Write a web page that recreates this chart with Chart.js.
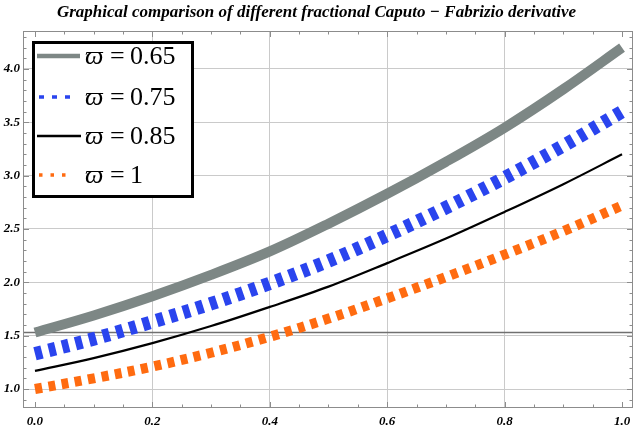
<!DOCTYPE html>
<html>
<head>
<meta charset="utf-8">
<script src="https://cdn.jsdelivr.net/npm/chart.js@4.4.0/dist/chart.umd.min.js"></script>
<style>
  html, body { margin: 0; padding: 0; background: #fff; }
</style>
</head>
<body>
<canvas id="chart" width="640" height="433"></canvas>
<script>
// values
const xValues = [0, 0.1, 0.2, 0.3, 0.4, 0.5, 0.6, 0.7, 0.8, 0.9, 1.0];
const omega065 = [1.53, 1.69, 1.87, 2.07, 2.29, 2.55, 2.83, 3.13, 3.45, 3.81, 4.20];
const omega075 = [1.33, 1.47, 1.63, 1.80, 1.99, 2.20, 2.44, 2.70, 2.98, 3.28, 3.60];
const omega085 = [1.17, 1.29, 1.43, 1.59, 1.77, 1.96, 2.18, 2.41, 2.66, 2.92, 3.20];
const omega100 = [1.00, 1.10, 1.21, 1.34, 1.49, 1.66, 1.85, 2.05, 2.26, 2.48, 2.72];

const xTicks = [0, 0.2, 0.4, 0.6, 0.8, 1.0];
const yTicks = [1.0, 1.5, 2.0, 2.5, 3.0, 3.5, 4.0];
const axisCrossY = 1.537;

const legendSymbol = 'ϖ';
const legendValues = ['0.65', '0.75', '0.85', '1'];
const chartTitle = 'Graphical comparison of different fractional Caputo − Fabrizio derivative';

const GRAY = 'rgb(125,135,133)';
const BLUE = 'rgb(42,68,238)';
const BLACK = '#000';
const ORANGE = 'rgb(255,107,16)';

const SERIF = "'Liberation Serif', 'DejaVu Serif', serif";
const tickFont = { family: SERIF, size: 13, style: 'italic', weight: 'bold' };

function toPoints(ys) {
    return xValues.map((x, i) => ({ x: x, y: ys[i] }));
}

// frame with inward ticks and the horizontal axis line
const framePlugin = {
    id: 'frame',
    beforeDatasetsDraw(chart) {
        const { ctx, chartArea: a, scales: { x, y } } = chart;
        ctx.save();

        const ay = Math.round(y.getPixelForValue(axisCrossY)) + 0.5;
        ctx.strokeStyle = '#707070';
        ctx.lineWidth = 1.3;
        ctx.beginPath();
        ctx.moveTo(a.left, ay);
        ctx.lineTo(a.right, ay);
        ctx.stroke();

        ctx.strokeStyle = '#8c8c8c';
        ctx.lineWidth = 1;
        ctx.strokeRect(a.left + 0.5, a.top + 0.5, a.width - 1, a.height - 1);

        ctx.beginPath();
        for (let i = 0; i <= 20; i++) {
            const px = Math.round(x.getPixelForValue(i * 0.05)) + 0.5;
            const len = i % 4 === 0 ? 6 : 3.5;
            ctx.moveTo(px, a.bottom); ctx.lineTo(px, a.bottom - len);
            ctx.moveTo(px, a.top); ctx.lineTo(px, a.top + len);
        }
        for (let i = 9; i <= 43; i++) {
            const py = Math.round(y.getPixelForValue(i / 10)) + 0.5;
            const len = i % 5 === 0 ? 6 : 3.5;
            ctx.moveTo(a.left, py); ctx.lineTo(a.left + len, py);
            ctx.moveTo(a.right, py); ctx.lineTo(a.right - len, py);
        }
        ctx.stroke();
        ctx.restore();
    }
};

// legend box in the upper left corner
const legendPlugin = {
    id: 'boxLegend',
    afterDraw(chart) {
        const ctx = chart.ctx;
        ctx.save();
        ctx.fillStyle = '#fff';
        ctx.fillRect(33, 42, 160, 155);
        ctx.strokeStyle = '#000';
        ctx.lineWidth = 3;
        ctx.strokeRect(33.5, 42.5, 159, 154);

        const rows = [56, 97, 136, 175];
        const samples = [
            { color: GRAY, width: 4.5, dash: [], x0: 37, x1: 80 },
            { color: BLUE, width: 3.5, dash: [5, 8], x0: 39, x1: 76 },
            { color: BLACK, width: 2.5, dash: [], x0: 37, x1: 81 },
            { color: ORANGE, width: 3.5, dash: [3.5, 8], x0: 39, x1: 70 }
        ];
        ctx.textBaseline = 'middle';
        ctx.fillStyle = '#000';
        rows.forEach((ry, i) => {
            const s = samples[i];
            ctx.strokeStyle = s.color;
            ctx.lineWidth = s.width;
            ctx.setLineDash(s.dash);
            ctx.beginPath();
            ctx.moveTo(s.x0, ry);
            ctx.lineTo(s.x1, ry);
            ctx.stroke();
            ctx.setLineDash([]);
            ctx.font = 'italic 26px ' + SERIF;
            ctx.fillText(legendSymbol, 85, ry + 1);
            ctx.font = '26px ' + SERIF;
            ctx.fillText('=', 110, ry + 1);
            ctx.fillText(legendValues[i], 130, ry + 1);
        });
        ctx.restore();
    }
};

const ctx = document.getElementById('chart').getContext('2d');
new Chart(ctx, {
    type: 'line',
    data: {
        datasets: [
            {
                label: legendSymbol + ' = ' + legendValues[0],
                data: toPoints(omega065),
                borderColor: GRAY,
                borderWidth: 10,
                borderCapStyle: 'butt'
            },
            {
                label: legendSymbol + ' = ' + legendValues[1],
                data: toPoints(omega075),
                borderColor: BLUE,
                borderWidth: 13.5,
                borderDash: [7, 7],
                borderCapStyle: 'butt'
            },
            {
                label: legendSymbol + ' = ' + legendValues[2],
                data: toPoints(omega085),
                borderColor: BLACK,
                borderWidth: 2.2
            },
            {
                label: legendSymbol + ' = ' + legendValues[3],
                data: toPoints(omega100),
                borderColor: ORANGE,
                borderWidth: 10,
                borderDash: [7, 6.5],
                borderCapStyle: 'butt'
            }
        ]
    },
    options: {
        responsive: false,
        animation: false,
        layout: { padding: { left: 0, right: 7, top: 0, bottom: 0 } },
        elements: {
            point: { radius: 0 },
            line: { tension: 0.35, fill: false }
        },
        scales: {
            x: {
                type: 'linear',
                min: -0.0204,
                max: 1.0187,
                afterFit: s => { s.height = 25; },
                afterBuildTicks: s => { s.ticks = xTicks.map(v => ({ value: v })); },
                ticks: {
                    font: tickFont,
                    color: '#000',
                    padding: 6,
                    maxRotation: 0,
                    autoSkip: false,
                    callback: v => Number(v).toFixed(1)
                },
                grid: {
                    drawTicks: false,
                    color: c => (c.tick && (c.tick.value === 0 || c.tick.value === 1)) ? 'rgba(0,0,0,0)' : '#cacaca'
                },
                border: { display: false }
            },
            y: {
                type: 'linear',
                min: 0.822,
                max: 4.356,
                afterFit: s => { s.width = 23; },
                afterBuildTicks: s => { s.ticks = yTicks.map(v => ({ value: v })); },
                ticks: {
                    font: tickFont,
                    color: '#000',
                    padding: 3,
                    autoSkip: false,
                    callback: v => Number(v).toFixed(1)
                },
                grid: { drawTicks: false, color: '#cacaca' },
                border: { display: false }
            }
        },
        plugins: {
            legend: { display: false },
            tooltip: { enabled: false },
            title: {
                display: true,
                text: chartTitle,
                color: '#000',
                font: { family: SERIF, size: 17, style: 'italic', weight: 'bold' },
                padding: { top: 2, bottom: 8.6 }
            }
        }
    },
    plugins: [framePlugin, legendPlugin]
});
</script>
</body>
</html>
